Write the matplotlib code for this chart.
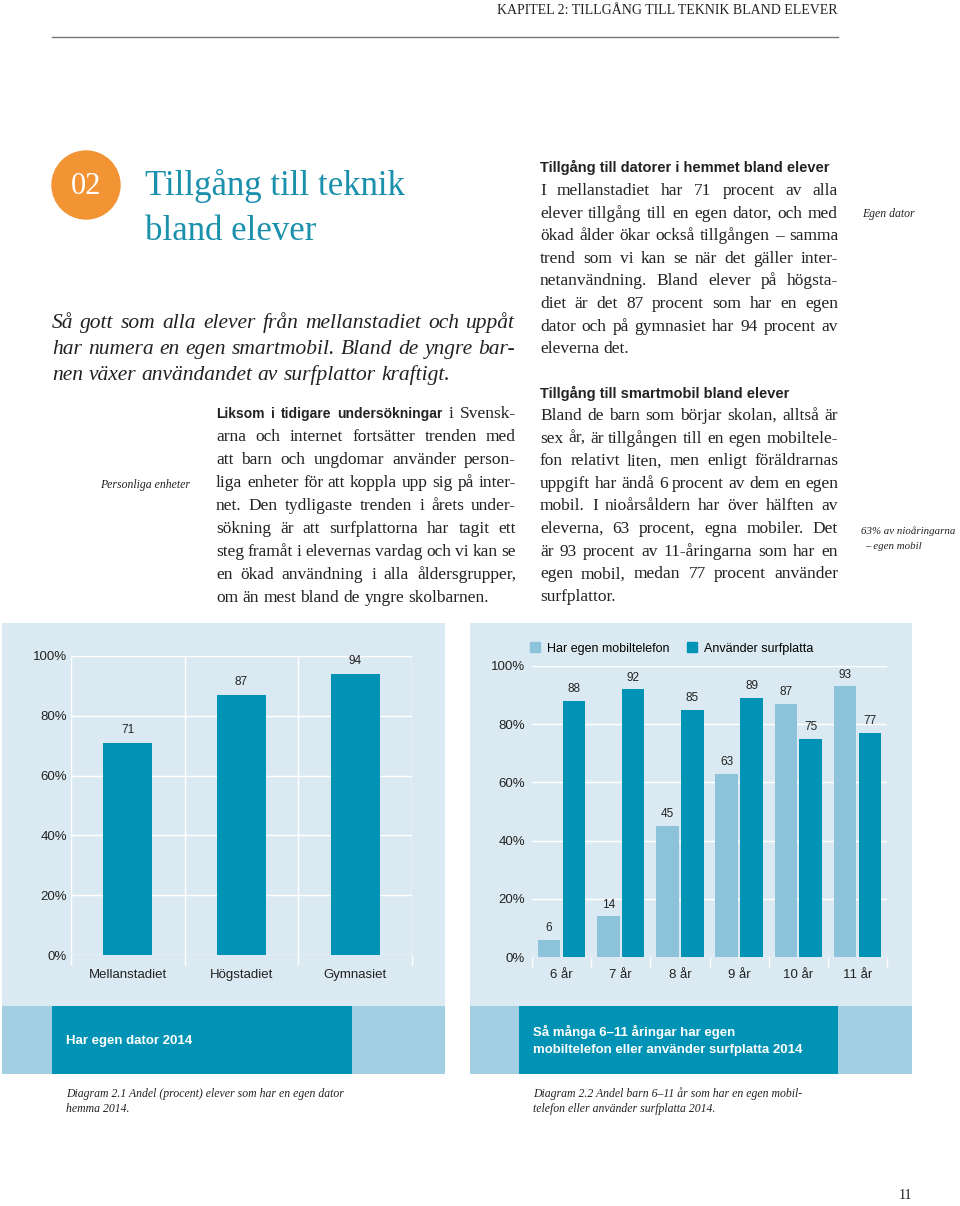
import matplotlib
matplotlib.use('Agg')
import matplotlib.pyplot as plt
from matplotlib.patches import Rectangle, Circle, Patch

# --- data ---
school_levels = ['Mellanstadiet', 'Högstadiet', 'Gymnasiet']
own_computer = [71, 87, 94]

ages = ['6 år', '7 år', '8 år', '9 år', '10 år', '11 år']
own_mobile = [6, 14, 45, 63, 87, 93]
uses_tablet = [88, 92, 85, 89, 75, 77]

y_ticks = [0, 20, 40, 60, 80, 100]
y_tick_labels = ['0%', '20%', '40%', '60%', '80%', '100%']

# --- colours ---
PANEL = '#dbeaf2'
BAND = '#a3cfe2'
TEAL = '#0093b5'
LIGHT = '#8dc3da'
TITLE = '#1b90ad'
ORANGE = '#f29334'
INK = '#222222'

SERIF = 'Liberation Serif'
SANS = 'Liberation Sans'

W, H = 960, 1206
fig = plt.figure(figsize=(9.6, 12.06), dpi=100)
page = fig.add_axes([0, 0, 1, 1])
page.set_xlim(0, W)
page.set_ylim(H, 0)
page.axis('off')
renderer = fig.canvas.get_renderer()


def box(x0, y0, x1, y1):
    return [x0 / W, 1 - y1 / H, (x1 - x0) / W, (y1 - y0) / H]


body = dict(family=SERIF, fontsize=12.5, color=INK)
lead = dict(family=SANS, fontsize=10, weight='bold', color=INK)
heading = dict(family=SANS, fontsize=10.5, weight='bold', color=INK)
note = dict(family=SERIF, fontsize=8.5, style='italic', color=INK)


def draw_line(x0, x1, y, words, justify=True):
    # words: list of (word, font kwargs)
    arts = [page.text(0, y, w, va='baseline', ha='left', **fp) for w, fp in words]
    widths = [t.get_window_extent(renderer).width for t in arts]
    space = words[-1][1]['fontsize'] * 100 / 72 * 0.25
    if justify and len(arts) > 1:
        gap = max((x1 - x0 - sum(widths)) / (len(arts) - 1), space * 0.6)
    else:
        gap = space
    x = x0
    for t, w in zip(arts, widths):
        t.set_x(x)
        x += w + gap


def paragraph(x0, x1, y0, step, lines, fp, bold_lead=''):
    for i, line in enumerate(lines):
        words = [(w, fp) for w in line.split()]
        if i == 0 and bold_lead:
            words = [(w, lead) for w in bold_lead.split()] + words
        draw_line(x0, x1, y0 + i * step, words, justify=(i < len(lines) - 1))


# --- header ---
page.text(838, 14, 'KAPITEL 2: TILLGÅNG TILL TEKNIK BLAND ELEVER', ha='right',
          va='baseline', family=SERIF, fontsize=10, color=INK)
page.plot([52, 838], [37, 37], color='#777777', lw=1)

# --- chapter title ---
page.add_patch(Circle((86, 185), 34, color=ORANGE))
page.text(86, 186, '02', ha='center', va='center', family=SERIF, fontsize=22, color='white')
page.text(145, 195, 'Tillgång till teknik', va='baseline', family=SERIF, fontsize=25, color=TITLE)
page.text(145, 240, 'bland elever', va='baseline', family=SERIF, fontsize=25, color=TITLE)

intro = dict(family=SERIF, fontsize=15.5, style='italic', color=INK)
paragraph(52, 515, 328, 26, [
    'Så gott som alla elever från mellanstadiet och uppåt',
    'har numera en egen smartmobil. Bland de yngre bar-',
    'nen växer användandet av surfplattor kraftigt.',
], intro)

# --- body text ---
page.text(190, 488, 'Personliga enheter', ha='right', va='baseline', **note)
paragraph(216, 516, 418, 23, [
    'i Svensk-',
    'arna och internet fortsätter trenden med',
    'att barn och ungdomar använder person-',
    'liga enheter för att koppla upp sig på inter-',
    'net. Den tydligaste trenden i årets under-',
    'sökning är att surfplattorna har tagit ett',
    'steg framåt i elevernas vardag och vi kan se',
    'en ökad användning i alla åldersgrupper,',
    'om än mest bland de yngre skolbarnen.',
], body, bold_lead='Liksom i tidigare undersökningar')

page.text(540, 172, 'Tillgång till datorer i hemmet bland elever', va='baseline', **heading)
paragraph(540, 838, 195, 22.6, [
    'I mellanstadiet har 71 procent av alla',
    'elever tillgång till en egen dator, och med',
    'ökad ålder ökar också tillgången – samma',
    'trend som vi kan se när det gäller inter-',
    'netanvändning. Bland elever på högsta-',
    'diet är det 87 procent som har en egen',
    'dator och på gymnasiet har 94 procent av',
    'eleverna det.',
], body)
page.text(862, 217, 'Egen dator', va='baseline', **note)

page.text(540, 398, 'Tillgång till smartmobil bland elever', va='baseline', **heading)
paragraph(540, 838, 420, 22.6, [
    'Bland de barn som börjar skolan, alltså är',
    'sex år, är tillgången till en egen mobiltele-',
    'fon relativt liten, men enligt föräldrarnas',
    'uppgift har ändå 6 procent av dem en egen',
    'mobil. I nioårsåldern har över hälften av',
    'eleverna, 63 procent, egna mobiler. Det',
    'är 93 procent av 11-åringarna som har en',
    'egen mobil, medan 77 procent använder',
    'surfplattor.',
], body)
small_note = dict(note, fontsize=7.8)
page.text(861, 534, '63% av nioåringarna', va='baseline', **small_note)
page.text(865, 549, '– egen mobil', va='baseline', **small_note)

# --- chart panels ---
for x0, x1, dx0, dx1 in [(2, 445, 52, 352), (470, 912, 519, 838)]:
    page.add_patch(Rectangle((x0, 623), x1 - x0, 383, color=PANEL, lw=0))
    page.add_patch(Rectangle((x0, 1006), x1 - x0, 68, color=BAND, lw=0))
    page.add_patch(Rectangle((dx0, 1006), dx1 - dx0, 68, color=TEAL, lw=0))

box_title = dict(family=SANS, fontsize=9.5, weight='bold', color='white', va='center')
page.text(66, 1041, 'Har egen dator 2014', **box_title)
page.text(533, 1032, 'Så många 6–11 åringar har egen', **box_title)
page.text(533, 1050, 'mobiltelefon eller använder surfplatta 2014', **box_title)

page.text(66, 1097, 'Diagram 2.1 Andel (procent) elever som har en egen dator', va='baseline', **note)
page.text(66, 1112, 'hemma 2014.', va='baseline', **note)
page.text(533, 1097, 'Diagram 2.2 Andel barn 6–11 år som har en egen mobil-', va='baseline', **note)
page.text(533, 1112, 'telefon eller använder surfplatta 2014.', va='baseline', **note)

page.text(912, 1199, '11', ha='right', va='baseline', family=SERIF, fontsize=10, color=INK)


def style_axes(ax, n, ypad):
    ax.patch.set_visible(False)
    ax.set_xlim(-0.5, n - 0.5)
    ax.set_ylim(0, 100)
    for s in ax.spines.values():
        s.set_visible(False)
    ax.set_yticks(y_ticks, y_tick_labels)
    ax.set_xticks([i - 0.5 for i in range(n + 1)], minor=True)
    ax.yaxis.grid(True, color='white', lw=1)
    ax.tick_params(axis='both', which='major', length=0, labelsize=9.5, labelcolor=INK,
                   labelfontfamily=SANS)
    ax.tick_params(axis='y', pad=ypad)
    ax.tick_params(axis='x', which='minor', length=7, color='white', width=1, direction='out')
    ax.set_axisbelow(True)


# --- chart 1: own computer ---
ax1 = fig.add_axes(box(71, 656, 412, 955))
style_axes(ax1, len(school_levels), 3)
ax1.xaxis.grid(True, which='minor', color='white', lw=1)
ax1.set_xticks(range(len(school_levels)), school_levels)
ax1.tick_params(axis='x', which='major', pad=10)
ax1.bar(range(len(school_levels)), own_computer, width=0.43, color=TEAL, zorder=3)
for i, v in enumerate(own_computer):
    ax1.annotate(str(v), (i, v), xytext=(0, 5), textcoords='offset points', ha='center',
                 va='bottom', fontsize=8.5, family=SANS, color=INK)

# --- chart 2: mobile and tablet by age ---
ax2 = fig.add_axes(box(532, 666, 887, 957))
style_axes(ax2, len(ages), 5)
ax2.set_xticks(range(len(ages)), ages)
ax2.tick_params(axis='x', which='major', pad=8.5)
xs = list(range(len(ages)))
ax2.bar([x - 0.21 for x in xs], own_mobile, width=0.38, color=LIGHT, zorder=3)
ax2.bar([x + 0.21 for x in xs], uses_tablet, width=0.38, color=TEAL, zorder=3)
for x, v in zip(xs, own_mobile):
    ax2.annotate(str(v), (x - 0.21, v), xytext=(0, 4), textcoords='offset points', ha='center',
                 va='bottom', fontsize=8.5, family=SANS, color=INK)
for x, v in zip(xs, uses_tablet):
    ax2.annotate(str(v), (x + 0.21, v), xytext=(0, 4), textcoords='offset points', ha='center',
                 va='bottom', fontsize=8.5, family=SANS, color=INK)

handles = [Patch(color=LIGHT, label='Har egen mobiltelefon'),
           Patch(color=TEAL, label='Använder surfplatta')]
ax2.legend(handles=handles, loc='center left', bbox_to_anchor=(-0.005, 1.06), ncol=2,
           frameon=False, handlelength=0.8, handleheight=0.8, handletextpad=0.55,
           columnspacing=1.4, borderpad=0, borderaxespad=0,
           prop=dict(family=SANS, size=9))

fig.savefig('out.png', dpi=100)
